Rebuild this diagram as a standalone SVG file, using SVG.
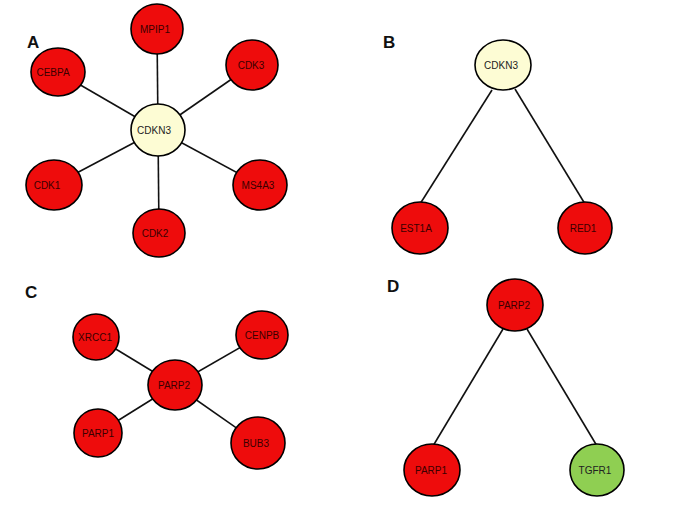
<svg xmlns="http://www.w3.org/2000/svg" width="685" height="513" viewBox="0 0 685 513">
<style>
.n{stroke:#000;stroke-width:1.6}
.r{fill:#ee0c0c}
.y{fill:#fdfcd4}
.g{fill:#8fcf52}
.t{font-family:"Liberation Sans",Arial,sans-serif;font-size:10px;text-anchor:middle;fill:#3a0000}
.k{fill:#222}
.lab{font-family:"Liberation Sans",Arial,sans-serif;font-size:17px;font-weight:bold;fill:#111}
.e{stroke:#111;stroke-width:1.6;fill:none}
</style>
<rect width="685" height="513" fill="#fff"/>
<text class="lab" x="27" y="48">A</text>
<text class="lab" x="383" y="48">B</text>
<text class="lab" x="25" y="298">C</text>
<text class="lab" x="387" y="292">D</text>
<g id="connectors">
<line class="e" x1="158" y1="130" x2="157" y2="29"/>
<line class="e" x1="158" y1="130" x2="58" y2="72"/>
<line class="e" x1="158" y1="130" x2="252" y2="65"/>
<line class="e" x1="158" y1="130" x2="54" y2="185"/>
<line class="e" x1="158" y1="130" x2="260" y2="185"/>
<line class="e" x1="158" y1="130" x2="159" y2="233"/>
<line class="e" x1="492" y1="90" x2="420" y2="204"/>
<line class="e" x1="515" y1="89" x2="585" y2="204"/>
<line class="e" x1="175" y1="385" x2="96" y2="337"/>
<line class="e" x1="175" y1="385" x2="262" y2="335"/>
<line class="e" x1="175" y1="385" x2="98" y2="433"/>
<line class="e" x1="175" y1="385" x2="258" y2="443"/>
<line class="e" x1="503" y1="329" x2="433" y2="446"/>
<line class="e" x1="527" y1="329" x2="597" y2="446"/>
</g>
<g id="A-CDKN3"><ellipse class="n y" cx="158" cy="130" rx="27" ry="26"/><text class="t k" x="154" y="134">CDKN3</text></g>
<g id="A-MPIP1"><ellipse class="n r" cx="157" cy="29" rx="26" ry="25"/><text class="t" x="155" y="33">MPIP1</text></g>
<g id="A-CEBPA"><ellipse class="n r" cx="58" cy="72" rx="27" ry="24"/><text class="t" x="53" y="76">CEBPA</text></g>
<g id="A-CDK3"><ellipse class="n r" cx="252" cy="65" rx="26" ry="25"/><text class="t" x="251" y="69">CDK3</text></g>
<g id="A-CDK1"><ellipse class="n r" cx="54" cy="185" rx="28" ry="25"/><text class="t" x="47" y="189">CDK1</text></g>
<g id="A-MS4A3"><ellipse class="n r" cx="260" cy="185" rx="27" ry="25"/><text class="t" x="258" y="189">MS4A3</text></g>
<g id="A-CDK2"><ellipse class="n r" cx="159" cy="233" rx="26" ry="24"/><text class="t" x="155" y="237">CDK2</text></g>
<g id="B-CDKN3"><ellipse class="n y" cx="503" cy="65" rx="28" ry="25"/><text class="t k" x="501" y="69">CDKN3</text></g>
<g id="B-EST1A"><ellipse class="n r" cx="420" cy="228" rx="28" ry="26"/><text class="t" x="416" y="232">EST1A</text></g>
<g id="B-RED1"><ellipse class="n r" cx="585" cy="228" rx="27" ry="26"/><text class="t" x="583" y="232">RED1</text></g>
<g id="C-PARP2"><ellipse class="n r" cx="175" cy="385" rx="27" ry="25"/><text class="t" x="174" y="389">PARP2</text></g>
<g id="C-XRCC1"><ellipse class="n r" cx="96" cy="337" rx="23" ry="23"/><text class="t" x="95" y="341">XRCC1</text></g>
<g id="C-CENPB"><ellipse class="n r" cx="262" cy="335" rx="26" ry="24"/><text class="t" x="262" y="339">CENPB</text></g>
<g id="C-PARP1"><ellipse class="n r" cx="98" cy="433" rx="24" ry="24"/><text class="t" x="98" y="437">PARP1</text></g>
<g id="C-BUB3"><ellipse class="n r" cx="258" cy="443" rx="27" ry="26"/><text class="t" x="256" y="447">BUB3</text></g>
<g id="D-PARP2"><ellipse class="n r" cx="515" cy="305" rx="28" ry="26"/><text class="t" x="514" y="309">PARP2</text></g>
<g id="D-PARP1"><ellipse class="n r" cx="432" cy="470" rx="28" ry="26"/><text class="t" x="431" y="474">PARP1</text></g>
<g id="D-TGFR1"><ellipse class="n g" cx="597" cy="470" rx="27" ry="26"/><text class="t k" x="595" y="474">TGFR1</text></g>
</svg>
